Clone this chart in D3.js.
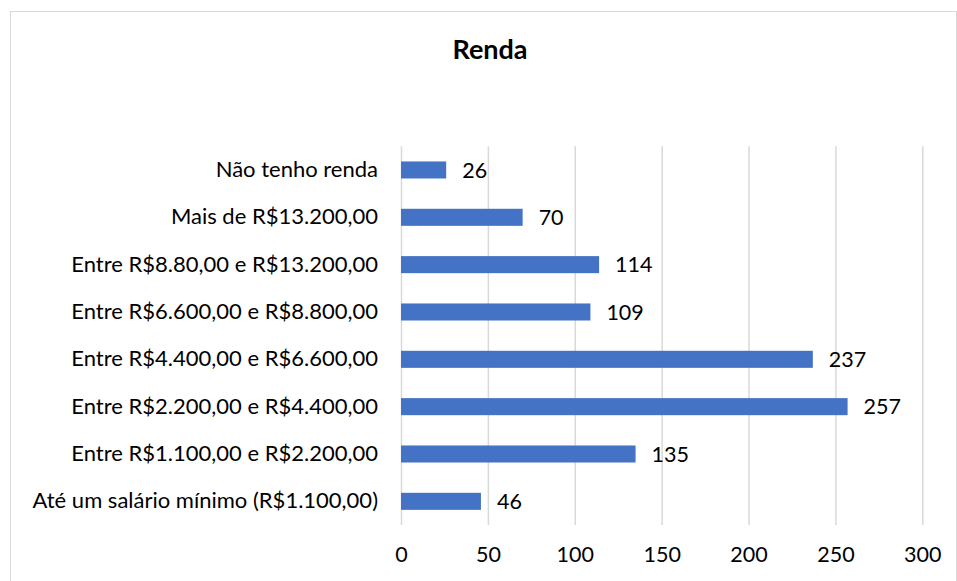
<!DOCTYPE html>
<html>
<head>
<meta charset="utf-8">
<script src="https://cdn.jsdelivr.net/npm/d3@7"></script>
<style>
  body { margin: 0; background: #fff; }
  text { font-family: Lato, "Open Sans", sans-serif; fill: #000; }
</style>
</head>
<body>
<div id="chart"></div>
<script>
// income brackets, top to bottom as in the chart
const categories = [
    "Não tenho renda",
    "Mais de R$13.200,00",
    "Entre R$8.80,00 e R$13.200,00",
    "Entre R$6.600,00 e R$8.800,00",
    "Entre R$4.400,00 e R$6.600,00",
    "Entre R$2.200,00 e R$4.400,00",
    "Entre R$1.100,00 e R$2.200,00",
    "Até um salário mínimo (R$1.100,00)"
];
const values = [26, 70, 114, 109, 237, 257, 135, 46];
const xTicks = [0, 50, 100, 150, 200, 250, 300];
const title = "Renda";

const W = 957, H = 581;
const margin = { top: 146.3, left: 401, right: 34.7, bottom: 56 };
const width = W - margin.left - margin.right;
const height = H - margin.top - margin.bottom;

const svg = d3.select("#chart").append("svg")
    .attr("width", W)
    .attr("height", H);

// outer chart border
svg.append("rect")
    .attr("x", 10.5).attr("y", 11.5)
    .attr("width", 946).attr("height", 600)
    .attr("fill", "none")
    .attr("stroke", "#d9d9d9")
    .attr("stroke-width", 1);

svg.append("text")
    .attr("x", 490).attr("y", 59)
    .attr("text-anchor", "middle")
    .style("font-size", "27px")
    .style("font-weight", "bold")
    .text(title);

const g = svg.append("g")
    .attr("transform", `translate(${margin.left},${margin.top})`);

const x = d3.scaleLinear().domain([0, 300]).range([0, width]);
const y = d3.scaleBand().domain(categories).range([0, height])
    .paddingInner(0.64).paddingOuter(0.32);

// x axis with gridlines
const xAxis = g.append("g")
    .attr("transform", `translate(0,${height})`)
    .call(d3.axisBottom(x).tickValues(xTicks).tickSize(-height).tickPadding(22));
xAxis.select(".domain").remove();
xAxis.selectAll("line").attr("stroke", "#d9d9d9").attr("stroke-width", 1.5);
xAxis.selectAll("text").style("font-size", "21.5px");

// category axis
const yAxis = g.append("g")
    .call(d3.axisLeft(y).tickSize(0).tickPadding(23));
yAxis.select(".domain").remove();
yAxis.selectAll("text").style("font-size", "22px");

// bars
g.selectAll(".bar")
    .data(values)
    .enter().append("rect")
    .attr("class", "bar")
    .attr("x", x(0))
    .attr("y", (d, i) => y(categories[i]))
    .attr("width", d => x(d) - x(0))
    .attr("height", y.bandwidth())
    .attr("fill", "#4472c4");

// value labels
g.selectAll(".val")
    .data(values)
    .enter().append("text")
    .attr("class", "val")
    .attr("x", d => x(d) + 16)
    .attr("y", (d, i) => y(categories[i]) + y.bandwidth() / 2)
    .attr("dy", "0.36em")
    .style("font-size", "21.5px")
    .text(d => d);
</script>
</body>
</html>
